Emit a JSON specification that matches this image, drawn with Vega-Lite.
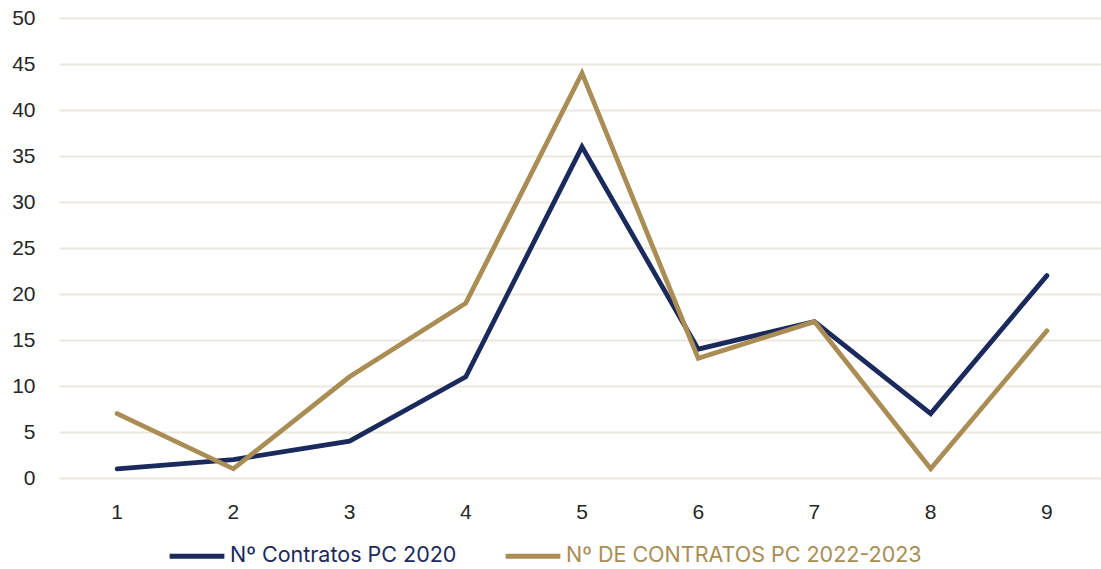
{
  "$schema": "https://vega.github.io/schema/vega-lite/v6.json",
  "width": 1046,
  "height": 460,
  "autosize": "none",
  "padding": {"left": 59, "top": 18, "right": 0, "bottom": 91},
  "background": "white",
  "config": {"view": {"stroke": null}},
  "data": {"values": [
    {"x": "1", "s": "Nº Contratos PC 2020", "v": 1},
    {"x": "2", "s": "Nº Contratos PC 2020", "v": 2},
    {"x": "3", "s": "Nº Contratos PC 2020", "v": 4},
    {"x": "4", "s": "Nº Contratos PC 2020", "v": 11},
    {"x": "5", "s": "Nº Contratos PC 2020", "v": 36},
    {"x": "6", "s": "Nº Contratos PC 2020", "v": 14},
    {"x": "7", "s": "Nº Contratos PC 2020", "v": 17},
    {"x": "8", "s": "Nº Contratos PC 2020", "v": 7},
    {"x": "9", "s": "Nº Contratos PC 2020", "v": 22},
    {"x": "1", "s": "Nº DE CONTRATOS PC 2022-2023", "v": 7},
    {"x": "2", "s": "Nº DE CONTRATOS PC 2022-2023", "v": 1},
    {"x": "3", "s": "Nº DE CONTRATOS PC 2022-2023", "v": 11},
    {"x": "4", "s": "Nº DE CONTRATOS PC 2022-2023", "v": 19},
    {"x": "5", "s": "Nº DE CONTRATOS PC 2022-2023", "v": 44},
    {"x": "6", "s": "Nº DE CONTRATOS PC 2022-2023", "v": 13},
    {"x": "7", "s": "Nº DE CONTRATOS PC 2022-2023", "v": 17},
    {"x": "8", "s": "Nº DE CONTRATOS PC 2022-2023", "v": 1},
    {"x": "9", "s": "Nº DE CONTRATOS PC 2022-2023", "v": 16}
  ]},
  "mark": {"type": "line", "strokeWidth": 4.8, "strokeJoin": "miter", "strokeCap": "round"},
  "encoding": {
    "x": {
      "field": "x", "type": "ordinal", "sort": null,
      "scale": {"type": "band", "paddingInner": 0, "paddingOuter": 0},
      "axis": {"title": null, "labelAngle": 0, "domain": false, "ticks": false, "grid": false,
               "labelFont": "Liberation Sans", "labelFontSize": 21, "labelColor": "#262626", "labelPadding": 23}
    },
    "y": {
      "field": "v", "type": "quantitative",
      "scale": {"domain": [0, 50], "nice": false},
      "axis": {"title": null, "values": [0,5,10,15,20,25,30,35,40,45,50], "domain": false, "ticks": false,
               "grid": true, "gridColor": "#EDE8DD", "gridWidth": 2,
               "labelFont": "Liberation Sans", "labelFontSize": 21, "labelColor": "#262626", "labelPadding": 24}
    },
    "color": {
      "field": "s", "type": "nominal",
      "scale": {"domain": ["Nº Contratos PC 2020", "Nº DE CONTRATOS PC 2022-2023"], "range": ["#1B2A5C", "#A98D54"]},
      "legend": {
        "title": null, "orient": "none", "direction": "horizontal", "legendX": 108, "legendY": 508,
        "symbolType": "stroke", "symbolSize": 3000, "symbolStrokeWidth": 5,
        "labelFont": "Inter", "labelFontSize": 21.5, "labelOffset": 3, "columnPadding": 38, "labelLimit": 0,
        "encode": {"labels": {"update": {"fill": {"signal": "datum.label === 'Nº Contratos PC 2020' ? '#1B2A5C' : '#A98D54'"}}}}
      }
    }
  }
}
